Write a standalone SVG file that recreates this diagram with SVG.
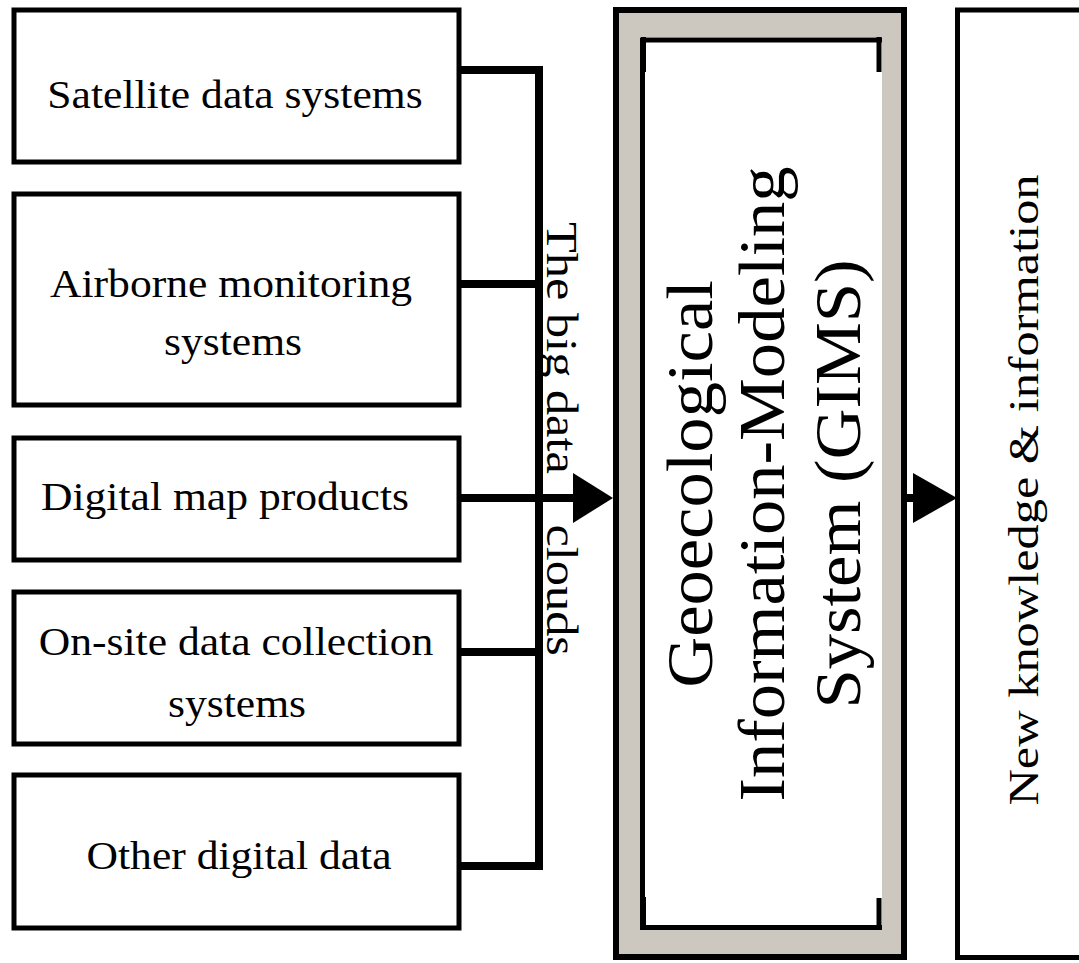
<svg xmlns="http://www.w3.org/2000/svg" width="1079" height="963" viewBox="0 0 1079 963">
  <defs>
    <style>
      .box { fill: #ffffff; stroke: #000000; stroke-width: 5; }
      .lbl { font-family: "Liberation Serif", "Times New Roman", serif; font-size: 40px; fill: #000000; text-anchor: middle; }
      .vlbl { font-family: "Liberation Serif", "Times New Roman", serif; fill: #000000; }
      .wire { fill: none; stroke: #000000; stroke-width: 8; stroke-linejoin: miter; }
      .head { fill: #000000; }
      .ink { stroke: #000000; stroke-width: 5; fill: none; }
    </style>
  </defs>
  <rect width="1079" height="963" fill="#ffffff"/>

  <!-- data sources -->
  <g id="satellite">
    <rect class="box" x="14" y="10" width="445" height="152"/>
    <text class="lbl" transform="translate(235 108) scale(1.09 1)">Satellite data systems</text>
  </g>
  <g id="airborne">
    <rect class="box" x="14" y="194" width="445" height="211"/>
    <text class="lbl" transform="translate(231 297) scale(1.09 1)">Airborne monitoring</text>
    <text class="lbl" transform="translate(233 355) scale(1.09 1)">systems</text>
  </g>
  <g id="digital-map">
    <rect class="box" x="14" y="438" width="445" height="122"/>
    <text class="lbl" transform="translate(225 510) scale(1.09 1)">Digital map products</text>
  </g>
  <g id="on-site">
    <rect class="box" x="14" y="592" width="445" height="152"/>
    <text class="lbl" transform="translate(236 655) scale(1.09 1)">On-site data collection</text>
    <text class="lbl" transform="translate(237 717) scale(1.09 1)">systems</text>
  </g>
  <g id="other-data">
    <rect class="box" x="14" y="775" width="445" height="153"/>
    <text class="lbl" transform="translate(239 869) scale(1.09 1)">Other digital data</text>
  </g>

  <!-- connectors -->
  <g id="connectors">
    <path class="wire" d="M461 70 H539 V866 H461"/>
    <path class="wire" d="M461 284 H539"/>
    <path class="wire" d="M461 652 H539"/>
    <path class="wire" d="M461 498 H576"/>
    <polygon class="head" points="573,473 613,498 573,523"/>
    <path class="wire" d="M905 498 H916"/>
    <polygon class="head" points="913,473 957,498 913,523"/>
  </g>

  <!-- bus label -->
  <g id="bus-label">
    <text class="vlbl" font-size="45" transform="translate(547 222) rotate(90) scale(1.12 1)">The big data<tspan x="270">clouds</tspan></text>
  </g>

  <!-- central system -->
  <g id="gims">
    <rect x="616" y="10" width="288" height="947" fill="#ccc8c0" stroke="#000000" stroke-width="6"/>
    <rect x="640" y="37" width="242" height="893" fill="#ffffff"/>
    <path class="ink" d="M642.5 930 V40 H882"/>
    <path class="ink" d="M640 927.5 H882"/>
    <path class="ink" d="M879 37 V72"/>
    <path class="ink" d="M879 898 V930"/>
    <path class="ink" stroke-width="7" d="M643.5 37 V72"/>
    <path class="ink" stroke-width="7" d="M643.5 897 V930"/>
    <text class="vlbl" font-size="66" text-anchor="middle" transform="translate(712 484) rotate(-90) scale(1.07 1)">Geoecological</text>
    <text class="vlbl" font-size="66" text-anchor="middle" transform="translate(784 484) rotate(-90) scale(1.07 1)">Information-Modeling</text>
    <text class="vlbl" font-size="66" text-anchor="middle" transform="translate(860 484) rotate(-90) scale(1.07 1)">System (GIMS)</text>
  </g>

  <!-- result -->
  <g id="knowledge">
    <rect class="box" x="957.5" y="10" width="130" height="947.5"/>
    <text class="vlbl" font-size="42" text-anchor="middle" transform="translate(1038 490) rotate(-90) scale(1.2 1)">New knowledge &amp; information</text>
  </g>
</svg>
